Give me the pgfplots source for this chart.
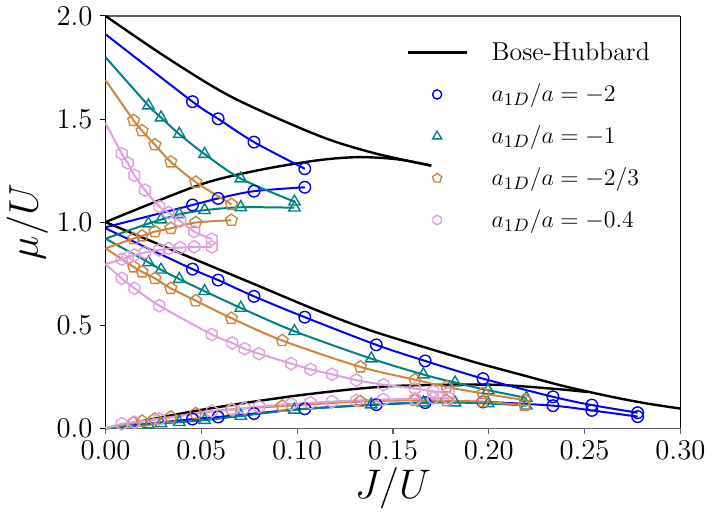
\documentclass[border=0pt]{standalone}
\usepackage{pgfplots}
\pgfplotsset{compat=1.18}
\usepackage{pgfplotstable}
\usetikzlibrary{plotmarks}
\definecolor{cBlue}{RGB}{0,0,255}
\definecolor{cTeal}{RGB}{0,128,128}
\definecolor{cPeru}{RGB}{205,133,63}
\definecolor{cPlum}{RGB}{221,160,221}
\pgfdeclareplotmark{hexagon}{%
  \pgfpathmoveto{\pgfpointpolar{90}{\pgfplotmarksize}}%
  \pgfpathlineto{\pgfpointpolar{150}{\pgfplotmarksize}}%
  \pgfpathlineto{\pgfpointpolar{210}{\pgfplotmarksize}}%
  \pgfpathlineto{\pgfpointpolar{270}{\pgfplotmarksize}}%
  \pgfpathlineto{\pgfpointpolar{330}{\pgfplotmarksize}}%
  \pgfpathlineto{\pgfpointpolar{30}{\pgfplotmarksize}}%
  \pgfpathclose\pgfusepathqstroke}

% Bose-Hubbard
\pgfplotstableread{
J mu
0 2.0
0.0316 1.80
0.066 1.606
0.111 1.42
0.14 1.335
0.170 1.274
}\BHtwoU
\pgfplotstableread{
J mu
0 1.0
0.0489 1.18
0.08 1.252
0.111 1.30
0.132 1.315
0.152 1.305
0.170 1.274
}\BHtwoL
\pgfplotstableread{
J mu
0 1.0
0.0749 0.71
0.111 0.57
0.1408 0.467
0.1893 0.330
0.2049 0.290
0.2205 0.251
0.2361 0.212
0.2517 0.178
0.2673 0.147
0.2829 0.120
0.300 0.096
}\BHoneU
\pgfplotstableread{
J mu
0 0
0.0489 0.088
0.1009 0.16
0.1477 0.204
0.1997 0.212
0.2325 0.193
0.2517 0.176
}\BHoneL
% blue a=-2
\pgfplotstableread{
J mu
0 1.911
0.0454 1.584
0.0588 1.501
0.0775 1.388
0.104 1.259
}\BtwoU
\pgfplotstableread{
J mu
0 0.975
0.0454 1.083
0.0588 1.115
0.0775 1.150
0.104 1.169
}\BtwoL
\pgfplotstableread{
J mu
0 0.97
0.0454 0.772
0.0588 0.719
0.0775 0.640
0.104 0.539
0.1413 0.405
0.1668 0.327
0.197 0.241
0.2335 0.153
0.2538 0.113
0.2777 0.076
}\BoneU
\pgfplotstableread{
J mu
0 0
0.0454 0.045
0.0588 0.055
0.0775 0.072
0.104 0.095
0.1413 0.115
0.1668 0.125
0.197 0.128
0.2335 0.110
0.2538 0.087
0.2777 0.057
}\BoneL
% teal a=-1
\pgfplotstableread{
J mu
0 1.80
0.0224 1.565
0.029 1.507
0.0385 1.427
0.0517 1.330
0.0706 1.211
0.0986 1.099
}\TtwoU
\pgfplotstableread{
J mu
0 0.92
0.0224 0.993
0.029 1.012
0.0385 1.038
0.0517 1.058
0.0706 1.072
0.0986 1.070
}\TtwoL
\pgfplotstableread{
J mu
0 0.92
0.0224 0.805
0.029 0.769
0.0385 0.724
0.0517 0.665
0.0706 0.584
0.0986 0.471
0.1387 0.338
0.1659 0.261
0.1824 0.222
0.1997 0.185
0.2196 0.148
}\ToneU
\pgfplotstableread{
J mu
0 0
0.0224 0.018
0.029 0.024
0.0385 0.030
0.0517 0.040
0.0706 0.060
0.0986 0.090
0.1387 0.115
0.1659 0.125
0.1824 0.125
0.1997 0.121
0.2196 0.110
}\ToneL
% peru a=-2/3
\pgfplotstableread{
J mu
0 1.689
0.0147 1.493
0.0191 1.443
0.0258 1.375
0.0341 1.292
0.0471 1.194
0.0657 1.086
}\OtwoU
\pgfplotstableread{
J mu
0 0.873
0.0147 0.920
0.0191 0.933
0.0258 0.954
0.0341 0.970
0.0471 0.998
0.0657 1.009
}\OtwoL
\pgfplotstableread{
J mu
0 0.873
0.0147 0.783
0.0191 0.759
0.0258 0.727
0.0341 0.679
0.0471 0.619
0.0657 0.534
0.0922 0.426
0.133 0.298
0.1615 0.236
0.178 0.201
0.197 0.169
0.2187 0.137
}\OoneU
\pgfplotstableread{
J mu
0 0
0.0147 0.027
0.0191 0.035
0.0258 0.045
0.0341 0.055
0.0471 0.072
0.0657 0.092
0.0922 0.108
0.133 0.130
0.1615 0.136
0.178 0.134
0.197 0.129
0.2187 0.112
}\OoneL
% plum a=-0.4
\pgfplotstableread{
J mu
0 1.48
0.0085 1.332
0.0116 1.287
0.0151 1.227
0.0206 1.155
0.0281 1.075
0.0329 1.046
0.039 1.005
0.0463 0.954
0.0555 0.917
}\PtwoU
\pgfplotstableread{
J mu
0 0.796
0.0085 0.820
0.0116 0.829
0.0151 0.840
0.0206 0.853
0.0281 0.865
0.0329 0.872
0.039 0.876
0.0463 0.880
0.0555 0.880
}\PtwoL
\pgfplotstableread{
J mu
0 0.796
0.0085 0.727
0.0151 0.679
0.0281 0.595
0.0555 0.455
0.0662 0.414
0.0726 0.386
0.0801 0.362
0.0969 0.314
0.107 0.286
0.1182 0.262
0.1309 0.234
0.145 0.212
0.1615 0.193
0.171 0.180
0.179 0.172
}\PoneU
\pgfplotstableread{
J mu
0 0
0.0085 0.022
0.0151 0.030
0.0281 0.045
0.0555 0.083
0.0662 0.090
0.0726 0.098
0.0801 0.105
0.0969 0.118
0.107 0.124
0.1182 0.130
0.1309 0.135
0.145 0.140
0.1615 0.143
0.171 0.147
0.179 0.148
}\PoneL

\pgfplotsset{
  bhline/.style={black, line width=1.2pt, smooth, mark=none, forget plot},
  cline/.style={color=#1, line width=1pt, smooth, mark=none, forget plot},
  cmark/.style={color=#1, only marks, forget plot, skip coords between index={0}{1},
     mark options={line width=0.7pt, fill=none, solid}},
  mB/.style={cmark=cBlue, mark=o, mark size=2.9pt},
  mT/.style={cmark=cTeal, mark=triangle, mark size=3.3pt},
  mO/.style={cmark=cPeru, mark=pentagon, mark size=3.1pt},
  mP/.style={cmark=cPlum, mark=hexagon, mark size=3.1pt},
}

\begin{document}
\begin{tikzpicture}
\begin{axis}[
  scale only axis,
  width=288.5pt, height=207pt,
  xmin=0, xmax=0.30, ymin=0, ymax=2.0,
  xtick={0,0.05,...,0.301}, ytick={0,0.5,...,2.01},
  xticklabel style={/pgf/number format/.cd, fixed, fixed zerofill, precision=2},
  yticklabel style={/pgf/number format/.cd, fixed, fixed zerofill, precision=1},
  tick label style={font=\fontsize{14.5}{16}\selectfont},
  tick align=outside, xtick pos=bottom, ytick pos=left,
  major tick length=3pt,
  separate axis lines,
  x axis line style={draw=black!62, line width=0.7pt},
  y axis line style={draw=black, line width=0.6pt},
  xtick style={draw=black!62, line width=0.6pt},
  ytick style={draw=black, line width=0.5pt},
  xlabel={$J/U$}, ylabel={$\mu/U$},
  label style={font=\fontsize{20}{24}\selectfont},
  xlabel style={at={(axis description cs:0.5,-0.145)}, anchor=center},
  ylabel style={at={(axis description cs:-0.136,0.5)}, anchor=center},
  legend style={draw=none, fill=none, at={(0.523,0.947)}, anchor=north west,
     font=\fontsize{13}{15}\selectfont, row sep=6.5pt, inner sep=0pt},
  legend cell align=left,
  legend image code/.code={\draw[mark repeat=2,mark phase=2] plot coordinates {(0pt,0pt) (14.75pt,0pt) (29.5pt,0pt)};},
  /tikz/every odd column/.append style={column sep=10pt},
  clip=false,
]
\addplot[bhline] table {\BHtwoU};
\addplot[bhline] table {\BHtwoL};
\addplot[bhline] table {\BHoneU};
\addplot[bhline] table {\BHoneL};

\addplot[cline=cBlue] table {\BtwoU};
\addplot[mB] table {\BtwoU};
\addplot[cline=cBlue] table {\BtwoL};
\addplot[mB] table {\BtwoL};
\addplot[cline=cBlue] table {\BoneU};
\addplot[mB] table {\BoneU};
\addplot[cline=cBlue] table {\BoneL};
\addplot[mB] table {\BoneL};

\addplot[cline=cTeal] table {\TtwoU};
\addplot[mT] table {\TtwoU};
\addplot[cline=cTeal] table {\TtwoL};
\addplot[mT] table {\TtwoL};
\addplot[cline=cTeal] table {\ToneU};
\addplot[mT] table {\ToneU};
\addplot[cline=cTeal] table {\ToneL};
\addplot[mT] table {\ToneL};

\addplot[cline=cPeru] table {\OtwoU};
\addplot[mO] table {\OtwoU};
\addplot[cline=cPeru] table {\OtwoL};
\addplot[mO] table {\OtwoL};
\addplot[cline=cPeru] table {\OoneU};
\addplot[mO] table {\OoneU};
\addplot[cline=cPeru] table {\OoneL};
\addplot[mO] table {\OoneL};

\addplot[cline=cPlum] table {\PtwoU};
\addplot[mP] table {\PtwoU};
\addplot[cline=cPlum] table {\PtwoL};
\addplot[mP] table {\PtwoL};
\addplot[cline=cPlum] table {\PoneU};
\addplot[mP] table {\PoneU};
\addplot[cline=cPlum] table {\PoneL};
\addplot[mP] table {\PoneL};

\addlegendimage{black, line width=1.2pt}
\addlegendentry{Bose-Hubbard}
\addlegendimage{only marks, color=cBlue, mark=o, mark size=2.3pt, mark options={line width=0.7pt}}
\addlegendentry{$a_{1D}/a=-2$}
\addlegendimage{only marks, color=cTeal, mark=triangle, mark size=2.6pt, mark options={line width=0.7pt}}
\addlegendentry{$a_{1D}/a=-1$}
\addlegendimage{only marks, color=cPeru, mark=pentagon, mark size=2.4pt, mark options={line width=0.7pt}}
\addlegendentry{$a_{1D}/a=-2/3$}
\addlegendimage{only marks, color=cPlum, mark=hexagon, mark size=2.4pt, mark options={line width=0.7pt}}
\addlegendentry{$a_{1D}/a=-0.4$}
\end{axis}
\end{tikzpicture}
\end{document}
